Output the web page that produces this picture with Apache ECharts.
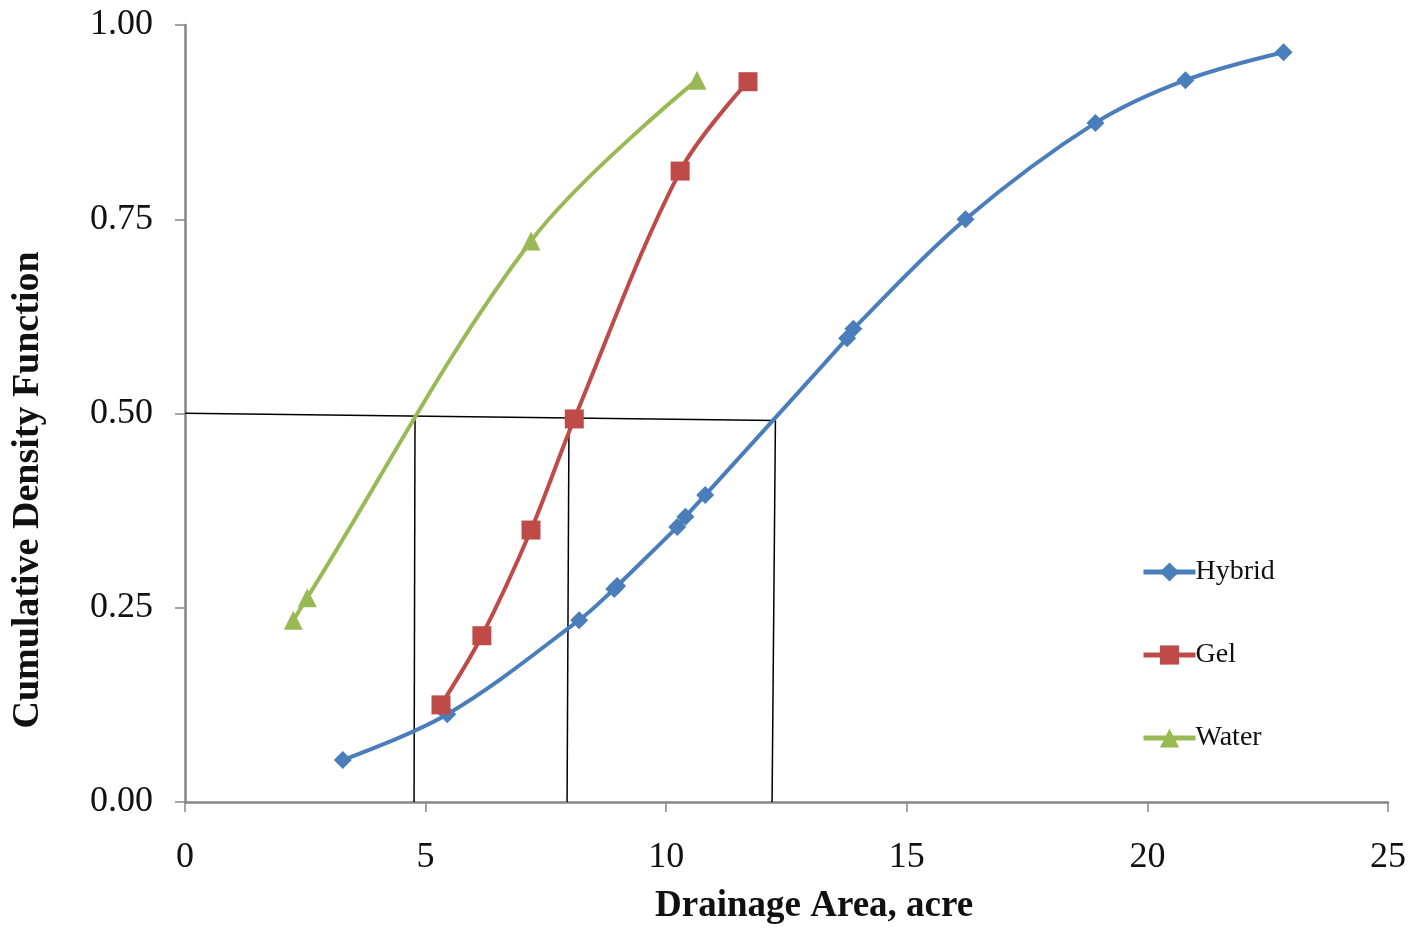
<!DOCTYPE html>
<html>
<head>
<meta charset="utf-8">
<script src="https://cdn.jsdelivr.net/npm/echarts@6/dist/echarts.min.js"></script>
<style>
  html, body { margin: 0; padding: 0; background: #ffffff; }
  #chart { width: 1414px; height: 931px; }
</style>
</head>
<body>
<div id="chart"></div>
<script>
// Drainage area (acre) vs. cumulative density for each fluid system
const hybridX = [3.28, 5.45, 8.19, 8.92, 8.98, 10.23, 10.40, 10.81, 13.76, 13.89, 16.22, 18.92, 20.79, 22.83];
const hybridY = [0.054, 0.113, 0.234, 0.274, 0.278, 0.354, 0.367, 0.395, 0.597, 0.609, 0.750, 0.874, 0.929, 0.965];

const gelX = [5.32, 6.17, 7.19, 8.09, 10.29, 11.70];
const gelY = [0.125, 0.214, 0.350, 0.493, 0.812, 0.927];

const waterX = [2.25, 2.54, 7.19, 10.64];
const waterY = [0.234, 0.263, 0.722, 0.929];

// Median read-off guide: horizontal line at CDF 0.5 and drops to the x axis
const guideH = [[0, 0.5004], [12.27, 0.491]];
const guideV1 = [[4.78, 0.4966], [4.76, 0]];
const guideV2 = [[7.98, 0.4943], [7.94, 0]];
const guideV3 = [[12.27, 0.491], [12.20, 0]];

const xTicks = [0, 5, 10, 15, 20, 25];
const yTicks = [0, 0.25, 0.5, 0.75, 1.0];

const zip = (xs, ys) => xs.map((x, i) => [x, ys[i]]);

const serif = '"Liberation Serif", "Times New Roman", serif';
const axisGray = '#868686';
const ink = '#111111';

const chart = echarts.init(document.getElementById('chart'), null, { renderer: 'canvas' });

const guideStyle = { color: '#000000', width: 1.5 };
function guide(data) {
  return {
    type: 'line', data: data, symbol: 'none', silent: true,
    lineStyle: guideStyle, z: 1, legendHoverLink: false
  };
}

chart.setOption({
  animation: false,
  backgroundColor: '#ffffff',
  grid: { left: 185, right: 26, top: 25, bottom: 129, containLabel: false },
  xAxis: {
    type: 'value',
    min: xTicks[0], max: xTicks[xTicks.length - 1], interval: 5,
    axisLine: { lineStyle: { color: axisGray, width: 2.5 } },
    axisTick: { show: true, length: 10, inside: false, lineStyle: { color: axisGray, width: 1.5 } },
    axisLabel: { fontFamily: serif, fontSize: 36, color: ink, margin: 38 },
    splitLine: { show: false }
  },
  yAxis: {
    type: 'value',
    min: yTicks[0], max: yTicks[yTicks.length - 1], interval: 0.25,
    axisLine: { show: true, lineStyle: { color: axisGray, width: 2.5 } },
    axisTick: { show: true, length: 10, inside: false, lineStyle: { color: axisGray, width: 1.5 } },
    axisLabel: {
      fontFamily: serif, fontSize: 36, color: ink, margin: 32,
      formatter: v => v.toFixed(2)
    },
    splitLine: { show: false }
  },
  legend: {
    orient: 'vertical',
    left: 1136, top: 553,
    itemWidth: 52, itemHeight: 24, itemGap: 55,
    data: ['Hybrid', 'Gel', 'Water'],
    lineStyle: { width: 5 },
    textStyle: { fontFamily: serif, fontSize: 28, color: ink, padding: [0, 0, 0, -5] }
  },
  graphic: [
    {
      type: 'text', left: 655, top: 888,
      style: { text: 'Drainage Area, acre', font: 'bold 37px ' + serif, fill: ink }
    },
    {
      type: 'text', x: 28, y: 490, rotation: Math.PI / 2,
      style: {
        text: 'Cumulative Density Function', font: 'bold 38px ' + serif, fill: ink,
        textAlign: 'center', textVerticalAlign: 'middle'
      }
    }
  ],
  series: [
    guide(guideH), guide(guideV1), guide(guideV2), guide(guideV3),
    {
      name: 'Hybrid', type: 'line', data: zip(hybridX, hybridY),
      smooth: 0.35, symbol: 'diamond', symbolSize: 18, z: 3,
      lineStyle: { color: '#4A7EBB', width: 4 },
      itemStyle: { color: '#4A7EBB' }
    },
    {
      name: 'Gel', type: 'line', data: zip(gelX, gelY),
      smooth: 0.35, symbol: 'rect', symbolSize: 19, z: 3,
      lineStyle: { color: '#BE4B48', width: 4 },
      itemStyle: { color: '#BE4B48' }
    },
    {
      name: 'Water', type: 'line', data: zip(waterX, waterY),
      smooth: 0.35, symbol: 'triangle', symbolSize: 19, z: 3,
      lineStyle: { color: '#98B954', width: 4 },
      itemStyle: { color: '#98B954' }
    }
  ]
});
</script>
</body>
</html>
